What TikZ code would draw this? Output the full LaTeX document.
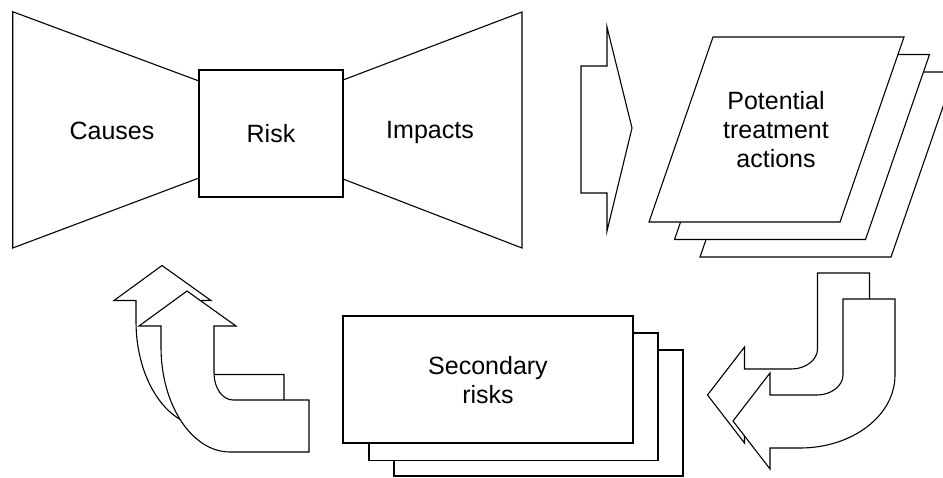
\documentclass[tikz,border=0pt]{standalone}
\usepackage{fontspec}
\setmainfont{Liberation Sans}
\begin{document}
\begin{tikzpicture}[x=1pt,y=-1pt,
  shape line/.style={draw=black,line width=1.1pt,fill=white,line join=miter},
  label text/.style={font=\fontsize{25}{29}\selectfont,inner sep=0pt,align=center},
  sheet/.style={shape line}]
\useasboundingbox (0,0) rectangle (943,477);
\clip (0,0) rectangle (943,477);

% bow tie
\draw[shape line] (12.7,11.7) -- (199,81) -- (199,178) -- (12.7,248) -- cycle;
\draw[shape line] (343,80) -- (522,12) -- (522,248) -- (343,179) -- cycle;
\node[shape line,rectangle,minimum width=144pt,minimum height=127pt,inner sep=0pt,
      label text] (risk) at (271,133.5) {Risk};
\node[label text,anchor=base] (causes) at (112,139) {Causes};
\node[label text,anchor=base] (impacts) at (430,138) {Impacts};

% straight arrow
\draw[shape line] (581,66) -- (607,66) -- (607,27) -- (632,128) -- (607,231) -- (607,193) -- (581,193) -- cycle;

% stacked parallelograms
\foreach \k in {2,1} {
  \draw[sheet,shift={(25.5*\k,17.5*\k)}] (713,37) -- (904,37) -- (840,222) -- (649,222) -- cycle;
}
\draw[sheet] (713,37) -- (904,37) -- (840,222) -- (649,222) -- cycle;
\node[label text] (treat) at (776,130) {Potential\\treatment\\actions};

% curved arrow bottom right
\foreach \s in {1,0} {
  \draw[shape line,shift={(-25.5*\s,-26*\s)}]
    (843,299) -- (895,299) -- (895,375)
    .. controls (895,416) and (852,448) .. (800,448)
    -- (770,448) -- (770,469) -- (733,421) -- (770,373) -- (770,395) -- (817,395)
    .. controls (831,395) and (843,386) .. (843,375) -- cycle;
}

% stacked rectangles
\draw[sheet] (394,350) rectangle (683,476);
\draw[sheet] (369,333) rectangle (658,460.5);
\draw[sheet] (343,316) rectangle (633,443);
\node[label text] (sec) at (488,380) {Secondary\\risks};

% curved arrow bottom left
\foreach \s in {1,0} {
  \draw[shape line,shift={(-25*\s,-25.5*\s)}]
    (187,291) -- (236,326) -- (214,326) -- (214,373)
    .. controls (214,388) and (222.5,400) .. (233,400)
    -- (309,400) -- (309,452) -- (230,452)
    .. controls (192,452) and (161,405) .. (161,347)
    -- (161,326) -- (139,326) -- cycle;
}
\end{tikzpicture}
\end{document}
